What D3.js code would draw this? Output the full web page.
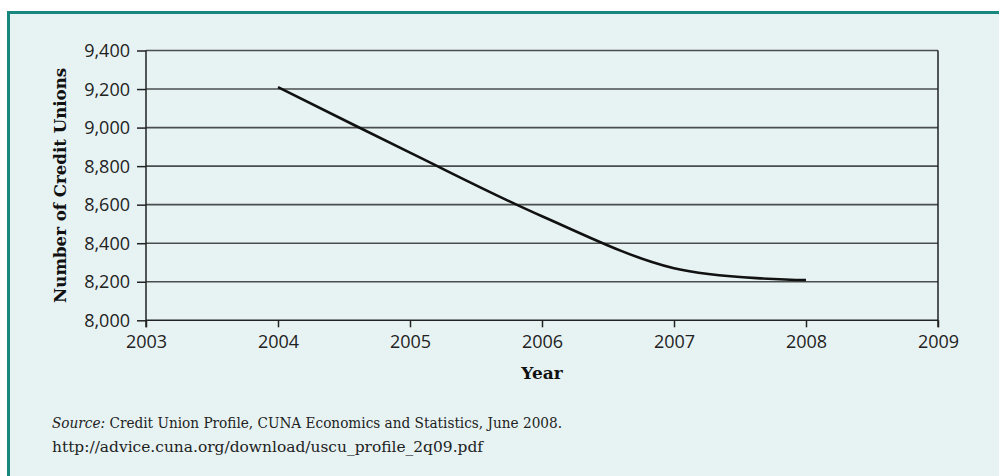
<!DOCTYPE html>
<html>
<head>
<meta charset="utf-8">
<script src="https://cdn.jsdelivr.net/npm/d3@7"></script>
<style>
  body { margin: 0; background: #fff; }
  svg { display: block; }
</style>
</head>
<body>
<div id="chart"></div>
<script>
// values
var years = [2004, 2005, 2006, 2007, 2008]
var unions = [9210, 8870, 8540, 8270, 8209]
var xTicks = [2003, 2004, 2005, 2006, 2007, 2008, 2009]
var yTicks = [8000, 8200, 8400, 8600, 8800, 9000, 9200, 9400]

var width = 999,
    height = 476,
    margin = {top: 50.5, right: 61, bottom: 156, left: 146};

var svg = d3.select("#chart").append("svg")
    .attr("width", width)
    .attr("height", height)

// panel with teal border on top and left
svg.append("rect")
    .attr("x", 7).attr("y", 11)
    .attr("width", width).attr("height", height)
    .attr("fill", "#e7f3f3")
svg.append("path")
    .attr("d", "M8.5," + height + "V12.5H" + width)
    .attr("fill", "none")
    .attr("stroke", "#17877f")
    .attr("stroke-width", 3)

var x = d3.scaleLinear()
    .domain([2003, 2009])
    .range([margin.left, width - margin.right])

var y = d3.scaleLinear()
    .domain([8000, 9400])
    .range([height - margin.bottom + 0.3, margin.top])

// gridlines
svg.append("g")
    .selectAll("line")
    .data(yTicks)
    .enter().append("line")
    .attr("x1", x(2003)).attr("x2", x(2009))
    .attr("y1", d => y(d)).attr("y2", d => y(d))
    .attr("stroke", d => d === 8000 ? "#222" : "#4a4d4d")
    .attr("stroke-width", 1.6)

// right edge line
svg.append("line")
    .attr("x1", x(2009)).attr("x2", x(2009))
    .attr("y1", y(9400)).attr("y2", y(8000) + 7)
    .attr("stroke", "#222").attr("stroke-width", 1.5)

var yAxis = svg.append("g")
    .attr("transform", "translate(" + x(2003) + ",0)")
    .call(d3.axisLeft(y).tickValues(yTicks).tickSize(9).tickSizeOuter(0)
        .tickFormat(d3.format(",")))

var xAxis = svg.append("g")
    .attr("transform", "translate(0," + y(8000) + ")")
    .call(d3.axisBottom(x).tickValues(xTicks).tickSize(7).tickSizeOuter(0)
        .tickFormat(d3.format("d")))

yAxis.select(".domain").attr("stroke", "#222").attr("stroke-width", 1.5)
    .attr("d", "M0," + y(9400) + "V" + (y(8000) + 7))
xAxis.select(".domain").remove()

svg.selectAll(".tick line").attr("stroke", "#222").attr("stroke-width", 1.5)
svg.selectAll(".tick text")
    .attr("fill", "#222")
    .style("font-family", "'Open Sans', sans-serif")
    .style("font-size", "18px")
yAxis.selectAll(".tick text").attr("x", -16).attr("dy", "0.34em")
xAxis.selectAll(".tick text").attr("y", 15)

// the series line, smoothed
var line = d3.line()
    .x((d, i) => x(years[i]))
    .y(d => y(d))
    .curve(d3.curveCardinal.tension(0))

svg.append("path")
    .datum(unions)
    .attr("d", line)
    .attr("fill", "none")
    .attr("stroke", "#111")
    .attr("stroke-width", 2.6)

// axis titles
svg.append("text")
    .attr("x", (x(2003) + x(2009)) / 2)
    .attr("y", 379)
    .attr("text-anchor", "middle")
    .style("font-family", "'DejaVu Serif', serif")
    .style("font-weight", "bold")
    .style("font-size", "17px")
    .attr("fill", "#111")
    .text("Year")

svg.append("text")
    .attr("transform", "translate(66," + (y(8000) + y(9400)) / 2 + ") rotate(-90)")
    .attr("text-anchor", "middle")
    .style("font-family", "'DejaVu Serif', serif")
    .style("font-weight", "bold")
    .style("font-size", "16.5px")
    .attr("fill", "#111")
    .attr("textLength", 235)
    .attr("lengthAdjust", "spacingAndGlyphs")
    .text("Number of Credit Unions")

// source note
var note = svg.append("text")
    .attr("x", 52).attr("y", 428)
    .style("font-family", "'DejaVu Serif Condensed', 'DejaVu Serif', serif")
    .style("font-stretch", "condensed")
    .style("font-size", "14px")
    .attr("fill", "#222")
    .attr("textLength", 510)
    .attr("lengthAdjust", "spacingAndGlyphs")
note.append("tspan").style("font-style", "italic").text("Source:")
note.append("tspan").text(" Credit Union Profile, CUNA Economics and Statistics, June 2008.")

svg.append("text")
    .attr("x", 52).attr("y", 452)
    .style("font-family", "'DejaVu Serif Condensed', 'DejaVu Serif', serif")
    .style("font-stretch", "condensed")
    .style("font-size", "14px")
    .attr("fill", "#222")
    .attr("textLength", 431)
    .attr("lengthAdjust", "spacingAndGlyphs")
    .text("http://advice.cuna.org/download/uscu_profile_2q09.pdf")
</script>
</body>
</html>
